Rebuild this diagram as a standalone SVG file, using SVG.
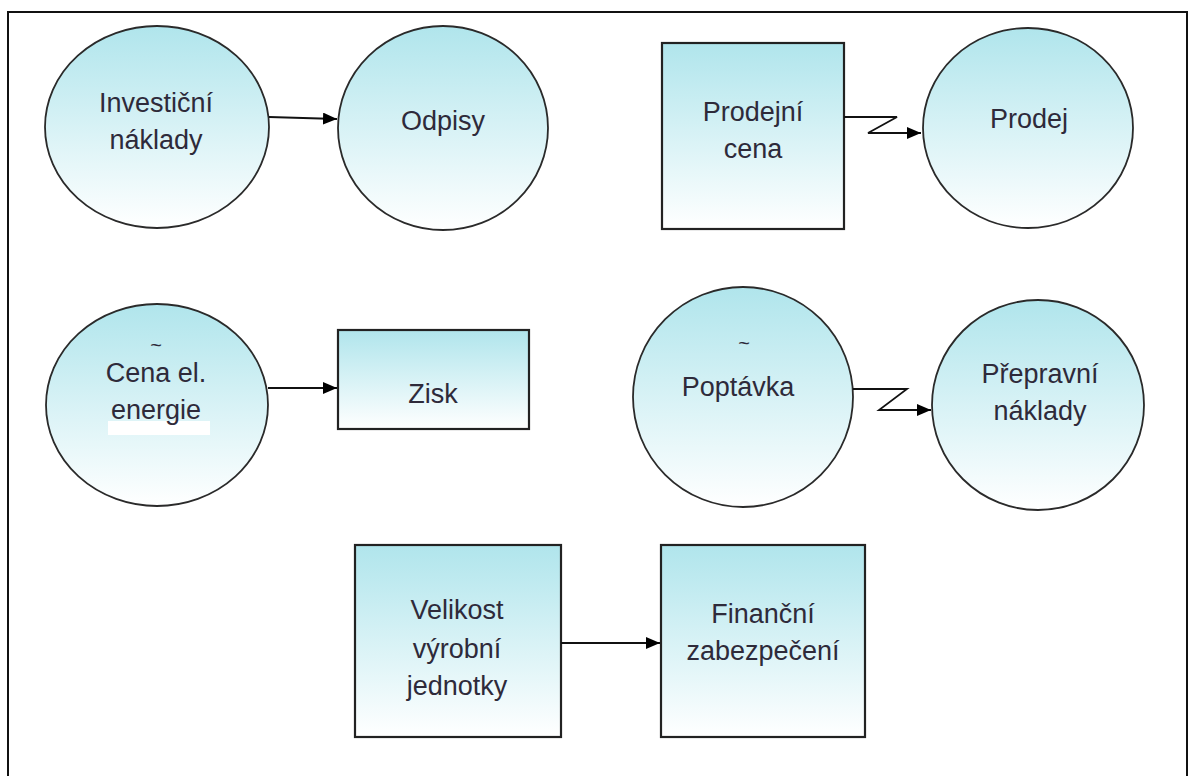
<svg xmlns="http://www.w3.org/2000/svg" width="1192" height="776" viewBox="0 0 1192 776">
<defs>
<linearGradient id="g" x1="0" y1="0" x2="0" y2="1">
<stop offset="0" stop-color="#b0e5ec"/>
<stop offset="1" stop-color="#ffffff"/>
</linearGradient>
<marker id="ah" viewBox="0 0 14 12" refX="14" refY="6" markerWidth="14" markerHeight="12" markerUnits="userSpaceOnUse" orient="auto">
<path d="M0,0 L14,6 L0,12 z" fill="#000"/>
</marker>
<style>
.n{fill:url(#g);stroke:#2a2a2a;stroke-width:1.8}
.r{fill:url(#g);stroke:#222;stroke-width:2.2}
.t{font-family:"Liberation Sans",Arial,sans-serif;font-size:27px;fill:#2e2a3a;text-anchor:middle}
.s{font-family:"Liberation Sans",Arial,sans-serif;font-size:20px;fill:#2e2a3a;text-anchor:middle}
.c{fill:none;stroke:#111;stroke-width:1.8;marker-end:url(#ah)}
</style>
</defs>
<rect width="1192" height="776" fill="#fff"/>
<rect x="8" y="12" width="1179" height="800" fill="none" stroke="#111" stroke-width="2"/>
<g id="investicni">
<ellipse class="n" cx="157" cy="127" rx="112" ry="101"/>
<text class="t" x="156" y="112">Investiční</text>
<text class="t" x="156" y="149">náklady</text>
</g>
<g id="odpisy">
<ellipse class="n" cx="443" cy="128" rx="105" ry="102"/>
<text class="t" x="443" y="130">Odpisy</text>
</g>
<g id="prodejni-cena">
<rect class="r" x="662" y="43" width="182" height="186"/>
<text class="t" x="753" y="121">Prodejní</text>
<text class="t" x="753" y="158">cena</text>
</g>
<g id="prodej">
<ellipse class="n" cx="1028" cy="128" rx="105" ry="100"/>
<text class="t" x="1029" y="128">Prodej</text>
</g>
<g id="cena-el">
<ellipse class="n" cx="157" cy="405" rx="111" ry="101"/>
<rect x="108" y="421" width="102" height="14" fill="#fff"/>
<text class="s" x="156" y="352">~</text>
<text class="t" x="156" y="382">Cena el.</text>
<text class="t" x="156" y="419">energie</text>
</g>
<g id="zisk">
<rect class="r" x="338" y="330" width="191" height="99"/>
<text class="t" x="433" y="403">Zisk</text>
</g>
<g id="poptavka">
<ellipse class="n" cx="743" cy="397" rx="110" ry="110"/>
<text class="s" x="744" y="350">~</text>
<text class="t" x="738" y="396">Poptávka</text>
</g>
<g id="prepravni">
<ellipse class="n" cx="1038" cy="405" rx="106" ry="105"/>
<text class="t" x="1040" y="383">Přepravní</text>
<text class="t" x="1040" y="420">náklady</text>
</g>
<g id="velikost">
<rect class="r" x="355" y="545" width="206" height="192"/>
<text class="t" x="457" y="619">Velikost</text>
<text class="t" x="457" y="658">výrobní</text>
<text class="t" x="457" y="695">jednotky</text>
</g>
<g id="financni">
<rect class="r" x="661" y="545" width="204" height="192"/>
<text class="t" x="763" y="623">Finanční</text>
<text class="t" x="763" y="660">zabezpečení</text>
</g>
<g id="connectors">
<path class="c" d="M269,117 L337,119"/>
<path class="c" d="M844,117 L897,117 L868,133 L921,133"/>
<path class="c" d="M268,388 L337,388"/>
<path class="c" d="M853,389 L907,389 L879,410 L931,410"/>
<path class="c" d="M561,643 L660,643"/>
</g>
</svg>
